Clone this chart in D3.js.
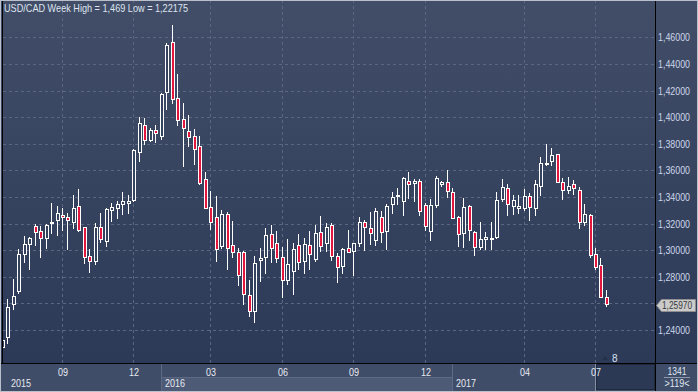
<!DOCTYPE html>
<html><head><meta charset="utf-8">
<script src="https://cdn.jsdelivr.net/npm/d3@7/dist/d3.min.js"></script>
<style>html,body{margin:0;padding:0;background:#fff;overflow:hidden}svg{display:block}</style>
</head><body><svg id="c" width="698" height="392"></svg>
<script>
// Weekly USD/CAD candles (index 0 = first visible week)
const opens = [1.2271,1.2344,1.2592,1.2695,1.2973,1.3044,1.3179,1.3144,1.3089,1.3201,
1.3229,1.3262,1.3247,1.3214,1.3329,1.3171,1.2953,1.2916,1.3171,1.3066,
1.3299,1.3314,1.3344,1.3356,1.3374,1.3735,1.3938,1.3828,1.3901,1.3860,
1.4186,1.4562,1.4141,1.3986,1.3893,1.3858,1.3783,1.3532,1.3322,1.3249,
1.3029,1.3269,1.3036,1.2983,1.2983,1.2660,1.2542,1.2923,1.2950,1.3119,
1.3051,1.2946,1.2773,1.2841,1.3036,1.2916,1.3036,1.2935,1.3134,1.3051,
1.3186,1.2953,1.2878,1.3014,1.2991,1.3051,1.3209,1.3164,1.3076,1.3247,
1.3141,1.3344,1.3405,1.3367,1.3517,1.3502,1.3517,1.3337,1.3141,1.3337,
1.3495,1.3510,1.3435,1.3247,1.3126,1.3329,1.3134,1.3021,1.3083,1.3086,
1.3096,1.3382,1.3465,1.3329,1.3319,1.3314,1.3405,1.3314,1.3480,1.3647,
1.3668,1.3720,1.3510,1.3450,1.3495,1.3450,1.3209,1.3262,1.2968,1.2886,
1.2645];
const highs = [1.2332,1.2630,1.2780,1.3008,1.3106,1.3096,1.3196,1.3179,1.3196,1.3356,
1.3332,1.3317,1.3279,1.3414,1.3457,1.3171,1.3011,1.3201,1.3279,1.3317,
1.3352,1.3369,1.3437,1.3417,1.3760,1.4003,1.3993,1.3918,1.3938,1.4183,
1.4557,1.4690,1.4324,1.4106,1.4016,1.3911,1.3858,1.3587,1.3442,1.3407,
1.3299,1.3287,1.3219,1.3014,1.2995,1.2775,1.2956,1.3016,1.3166,1.3186,
1.3144,1.3026,1.3083,1.3056,1.3121,1.3091,1.3144,1.3189,1.3256,1.3201,
1.3201,1.2976,1.3016,1.3151,1.3051,1.3247,1.3224,1.3284,1.3314,1.3292,
1.3344,1.3435,1.3469,1.3547,1.3585,1.3532,1.3532,1.3352,1.3382,1.3555,
1.3517,1.3600,1.3465,1.3254,1.3390,1.3337,1.3141,1.3209,1.3134,1.3209,
1.3435,1.3532,1.3495,1.3412,1.3414,1.3457,1.3427,1.3525,1.3698,1.3795,
1.3765,1.3720,1.3540,1.3547,1.3525,1.3472,1.3344,1.3269,1.3014,1.2938,
1.2698];
const lows = [1.22175,1.2304,1.2559,1.2680,1.2911,1.2860,1.3038,1.2950,1.3018,1.3131,
1.3116,1.3151,1.3008,1.3166,1.3144,1.2901,1.2833,1.2898,1.3061,1.3033,
1.3219,1.3244,1.3274,1.3281,1.3369,1.3672,1.3800,1.3820,1.3813,1.3838,
1.4061,1.4108,1.3943,1.3635,1.3783,1.3647,1.3499,1.3314,1.3159,1.2920,
1.3016,1.2856,1.2950,1.2738,1.2592,1.2505,1.2459,1.2770,1.2830,1.2908,
1.2913,1.2650,1.2747,1.2670,1.2858,1.2830,1.2860,1.2920,1.2995,1.2995,
1.2926,1.2762,1.2826,1.2983,1.2815,1.3029,1.2999,1.3044,1.3036,1.3059,
1.3006,1.3277,1.3344,1.3262,1.3390,1.3367,1.3262,1.3149,1.3074,1.3322,
1.3480,1.3397,1.3239,1.3029,1.3021,1.3074,1.2961,1.3006,1.3006,1.3006,
1.3089,1.3367,1.3262,1.3269,1.3277,1.3304,1.3224,1.3262,1.3412,1.3638,
1.3642,1.3510,1.3386,1.3427,1.3420,1.3164,1.3186,1.2946,1.2856,1.2645,
1.2577];
const closes = [1.2324,1.2570,1.2655,1.2968,1.3044,1.3089,1.3134,1.3093,1.3186,1.3209,
1.3277,1.3247,1.3224,1.3317,1.3149,1.2946,1.2916,1.3171,1.3081,1.3309,
1.3324,1.3347,1.3369,1.3369,1.3753,1.3953,1.3826,1.3901,1.3883,1.4171,
1.4542,1.4138,1.3976,1.3916,1.3848,1.3763,1.3505,1.3314,1.3209,1.3006,
1.3269,1.3014,1.2983,1.2815,1.2668,1.2542,1.2905,1.2938,1.3111,1.3014,
1.2938,1.2773,1.2893,1.3006,1.2908,1.3044,1.2968,1.3126,1.3031,1.3171,
1.2953,1.2871,1.3006,1.2983,1.3051,1.3209,1.3171,1.3126,1.3292,1.3134,
1.3329,1.3397,1.3417,1.3540,1.3499,1.3517,1.3292,1.3179,1.3337,1.3540,
1.3510,1.3442,1.3239,1.3119,1.3322,1.3149,1.3021,1.3081,1.3096,1.3091,
1.3374,1.3472,1.3344,1.3374,1.3329,1.3405,1.3322,1.3495,1.3653,1.3653,
1.3713,1.3510,1.3450,1.3480,1.3465,1.3209,1.3269,1.2961,1.2871,1.2645,
1.2597];

const priceTicks = [1.24,1.26,1.28,1.30,1.32,1.34,1.36,1.38,1.40,1.42,1.44,1.46];
const monthTickIdx = [11,24,38,51,64,77,95,108];
const monthTickLabels = ["09","12","03","06","09","12","04","07"];
const yearStartIdx = [0,29,82];
const yearLabels = ["2015","2016","2017"];
const titleText = "USD/CAD Week High = 1,469 Low = 1,22175";
const lastPriceLabel = "1,25970";
const cornerTop = "1341", cornerBottom = ">119<", scrollLabel = "8";

const W = 698, H = 392;
const plotL = 3, plotR = 655, plotB = 363;
const FONT = "Liberation Sans, Arial, sans-serif";
const svg = d3.select("#c");
const defs = svg.append("defs");
const g1 = defs.append("linearGradient").attr("id","bg").attr("x1",0).attr("y1",0).attr("x2",0).attr("y2",1);
g1.append("stop").attr("offset","0%").attr("stop-color","#424e68");
g1.append("stop").attr("offset","100%").attr("stop-color","#2a3856");
const clip = defs.append("clipPath").attr("id","pc");
clip.append("rect").attr("x",plotL).attr("y",0).attr("width",plotR-plotL).attr("height",plotB);

svg.append("rect").attr("x",0).attr("y",0).attr("width",W).attr("height",H).attr("fill","url(#bg)");

const x = d3.scaleLinear().domain([11,108]).range([62.5,595.5]);
const y = d3.scaleLinear().domain([1.24,1.46]).range([330,37.3]);
const col = i => Math.floor(x(i));
const py = v => Math.round(y(v));

const fmt = v => d3.format(".5f")(v).replace(".", ",");

// grid
const grid = svg.append("g").attr("stroke","#5b6782").attr("stroke-dasharray","3,3").attr("stroke-width",1);
priceTicks.forEach(t => {
  grid.append("line").attr("x1",plotL).attr("x2",plotR).attr("y1",py(t)+0.5).attr("y2",py(t)+0.5);
});
monthTickIdx.forEach(i => {
  grid.append("line").attr("x1",col(i)+0.5).attr("x2",col(i)+0.5).attr("y1",0).attr("y2",plotB);
});

// candles
const idx = d3.range(opens.length);
const cg = svg.append("g").attr("clip-path","url(#pc)");
const cs = cg.selectAll("g.c").data(idx).join("g").attr("class","c");
cs.append("line")
  .attr("x1", i => col(i)+0.5).attr("x2", i => col(i)+0.5)
  .attr("y1", i => py(highs[i])).attr("y2", i => py(lows[i])+1)
  .attr("stroke","#ffffff").attr("stroke-width",1);
cs.append("rect")
  .attr("x", i => col(i)-0.5)
  .attr("y", i => Math.min(py(opens[i]),py(closes[i]))+0.5)
  .attr("width",3)
  .attr("height", i => Math.max(1, Math.abs(py(opens[i])-py(closes[i]))))
  .attr("fill", i => closes[i] < opens[i] ? "#e3163e" : "#36435f")
  .attr("stroke","#ffffff").attr("stroke-width",1);

// title
svg.append("text").attr("x",4).attr("y",12).text(titleText)
  .attr("font-family",FONT).attr("font-size","11px").attr("fill","#dfe4ee")
  .attr("textLength",184).attr("lengthAdjust","spacingAndGlyphs");

// right axis
const ra = svg.append("g");
priceTicks.forEach(t => {
  if (Math.abs(t-1.26) < 1e-9) return;
  ra.append("text").attr("x",658).attr("y",py(t)+4).text(fmt(t))
    .attr("font-family",FONT).attr("font-size","10.5px").attr("fill","#cdd7ea")
    .attr("textLength",32).attr("lengthAdjust","spacingAndGlyphs");
});
// last price marker
const lp = closes[closes.length-1];
const ly = Math.round(y(lp))+1.5;
svg.append("path").attr("d",`M656.5,${ly} L661.5,${ly-6} L695.5,${ly-6} L695.5,${ly+6} L661.5,${ly+6} Z`)
  .attr("fill","#cbcbcb").attr("stroke","#8f8f8f").attr("stroke-width",1);
svg.append("text").attr("x",662).attr("y",ly+3.5).text(lastPriceLabel)
  .attr("font-family",FONT).attr("font-size","10px").attr("fill","#3a3a3a")
  .attr("textLength",30).attr("lengthAdjust","spacingAndGlyphs");

// bottom time axis
svg.append("rect").attr("x",0).attr("y",plotB).attr("width",W).attr("height",H-plotB).attr("fill","#404d68");
// scroll box
svg.append("rect").attr("x",596.5).attr("y",364.5).attr("width",58).attr("height",25).attr("fill","#2c3954").attr("stroke","#1f2a3f");
svg.append("line").attr("x1",595.5).attr("x2",595.5).attr("y1",364).attr("y2",H).attr("stroke","#8791a6");
svg.append("path").attr("d","M602,360 L605,356 L608,360 Z").attr("fill","#27324a");
svg.append("text").attr("x",612).attr("y",362).text(scrollLabel)
  .attr("font-family",FONT).attr("font-size","10px").attr("fill","#d8e0ee");

const yearEnds = yearStartIdx.slice(1).concat([null]);
yearStartIdx.forEach((s,k) => {
  const x0 = k===0 ? plotL : col(s);
  const x1 = yearEnds[k]===null ? 595 : col(yearEnds[k]);
  if (k===1) {
    svg.append("rect").attr("x",x0).attr("y",377).attr("width",x1-x0).attr("height",14).attr("fill","#4e5b77");
    svg.append("line").attr("x1",x0).attr("x2",x1).attr("y1",377.5).attr("y2",377.5).attr("stroke","#5d6a86");
  }
  if (k>0) svg.append("line").attr("x1",x0+0.5).attr("x2",x0+0.5).attr("y1",plotB).attr("y2",H).attr("stroke","#5d6a86");
  svg.append("text").attr("x",x0+(k===0?8:4)).attr("y",386.5).text(yearLabels[k])
    .attr("font-family",FONT).attr("font-size","10.5px").attr("fill","#e6eaf2")
    .attr("textLength",20).attr("lengthAdjust","spacingAndGlyphs");
});
monthTickIdx.forEach((i,k) => {
  svg.append("text").attr("x",col(i)-4).attr("y",375.5).text(monthTickLabels[k])
    .attr("font-family",FONT).attr("font-size","10.5px").attr("fill","#e6eaf2")
    .attr("textLength",10).attr("lengthAdjust","spacingAndGlyphs");
});

// corner
svg.append("rect").attr("x",656).attr("y",plotB+1).attr("width",W-656).attr("height",H-plotB-1).attr("fill","#404d68");
svg.append("text").attr("x",667.5).attr("y",374.5).text(cornerTop)
  .attr("font-family",FONT).attr("font-size","10.5px").attr("fill","#dfe6f2")
  .attr("textLength",19).attr("lengthAdjust","spacingAndGlyphs");
svg.append("line").attr("x1",664).attr("x2",690).attr("y1",377.5).attr("y2",377.5).attr("stroke","#8e99ae");
svg.append("text").attr("x",664.5).attr("y",387).text(cornerBottom)
  .attr("font-family",FONT).attr("font-size","10.5px").attr("fill","#dfe6f2")
  .attr("textLength",25).attr("lengthAdjust","spacingAndGlyphs");

// borders
svg.append("line").attr("x1",0).attr("x2",W).attr("y1",plotB+0.5).attr("y2",plotB+0.5).attr("stroke","#000");
svg.append("line").attr("x1",plotR+0.5).attr("x2",plotR+0.5).attr("y1",0).attr("y2",H).attr("stroke","#000");
svg.append("line").attr("x1",2.5).attr("x2",2.5).attr("y1",0).attr("y2",plotB).attr("stroke","#000");
svg.append("rect").attr("x",0.5).attr("y",0.5).attr("width",W-1).attr("height",H-1).attr("fill","none").attr("stroke","#b9c0cc");
</script></body></html>
